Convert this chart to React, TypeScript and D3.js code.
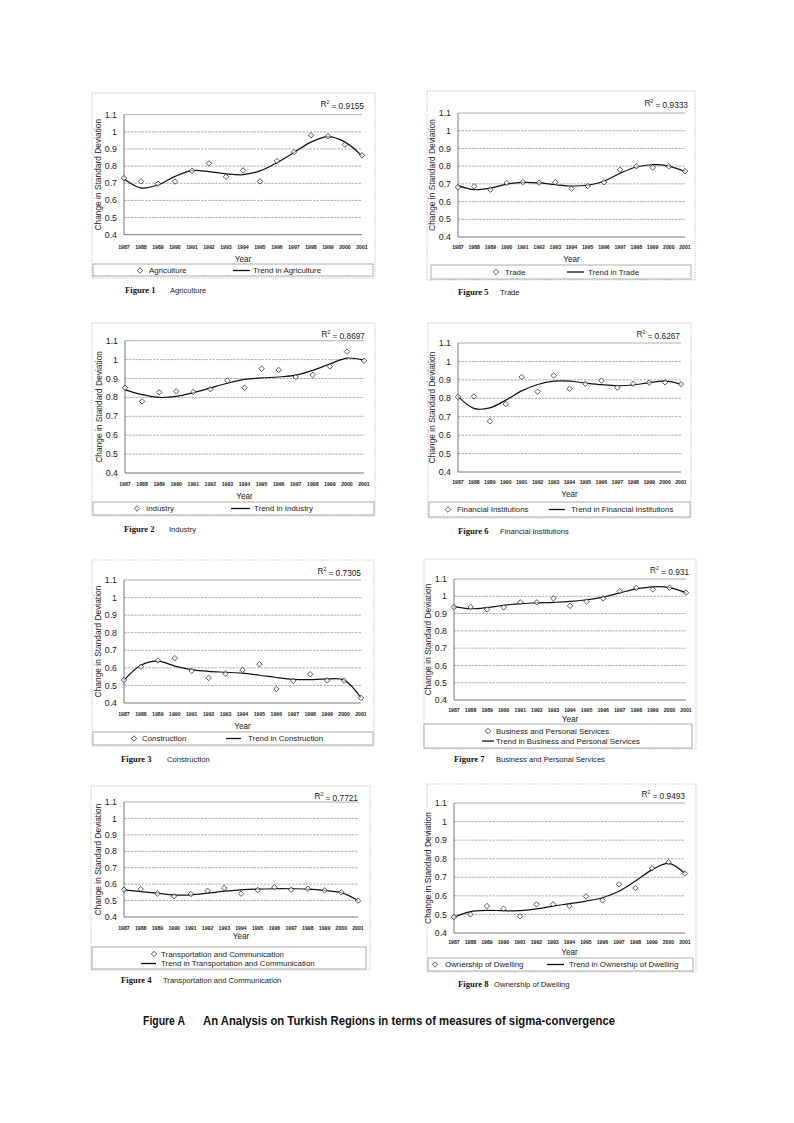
import React from "react";
import * as d3 from "d3";

const years = [1987, 1988, 1989, 1990, 1991, 1992, 1993, 1994, 1995, 1996, 1997, 1998, 1999, 2000, 2001];
const yTicks = [0.4, 0.5, 0.6, 0.7, 0.8, 0.9, 1, 1.1];
const yTickLabels = ["0.4", "0.5", "0.6", "0.7", "0.8", "0.9", "1", "1.1"];

const agricultureValues = [0.73, 0.711, 0.697, 0.71, 0.773, 0.816, 0.738, 0.775, 0.711, 0.83, 0.882, 0.98, 0.974, 0.925, 0.863];
const agricultureTrend = [0.725, 0.673, 0.69, 0.74, 0.774, 0.768, 0.755, 0.75, 0.772, 0.82, 0.88, 0.94, 0.972, 0.94, 0.86];

const tradeValues = [0.682, 0.686, 0.667, 0.705, 0.71, 0.707, 0.709, 0.673, 0.688, 0.709, 0.78, 0.799, 0.793, 0.799, 0.771];
const tradeTrend = [0.69, 0.667, 0.676, 0.698, 0.708, 0.705, 0.695, 0.688, 0.692, 0.715, 0.76, 0.795, 0.808, 0.8, 0.77];

const industryValues = [0.851, 0.779, 0.827, 0.832, 0.829, 0.843, 0.889, 0.851, 0.952, 0.945, 0.908, 0.919, 0.964, 1.042, 0.994];
const industryTrend = [0.84, 0.815, 0.8, 0.805, 0.825, 0.85, 0.875, 0.895, 0.903, 0.908, 0.918, 0.943, 0.977, 1.008, 0.997];

const financialValues = [0.807, 0.81, 0.675, 0.769, 0.915, 0.836, 0.924, 0.852, 0.879, 0.896, 0.858, 0.879, 0.885, 0.887, 0.877];
const financialTrend = [0.81, 0.745, 0.748, 0.79, 0.84, 0.875, 0.893, 0.893, 0.883, 0.874, 0.868, 0.872, 0.885, 0.893, 0.877];

const constructionValues = [0.531, 0.607, 0.642, 0.655, 0.583, 0.543, 0.567, 0.588, 0.621, 0.48, 0.526, 0.564, 0.529, 0.527, 0.429];
const constructionTrend = [0.53, 0.615, 0.638, 0.61, 0.59, 0.58, 0.575, 0.57, 0.558, 0.545, 0.535, 0.533, 0.537, 0.53, 0.43];

const businessValues = [0.938, 0.938, 0.924, 0.936, 0.965, 0.965, 0.988, 0.945, 0.97, 0.988, 1.029, 1.048, 1.04, 1.05, 1.021];
const businessTrend = [0.94, 0.928, 0.935, 0.948, 0.958, 0.962, 0.965, 0.97, 0.98, 0.995, 1.02, 1.043, 1.055, 1.05, 1.02];

const transportValues = [0.566, 0.57, 0.542, 0.526, 0.54, 0.56, 0.577, 0.542, 0.564, 0.581, 0.566, 0.572, 0.562, 0.55, 0.499];
const transportTrend = [0.565, 0.555, 0.545, 0.535, 0.535, 0.545, 0.557, 0.565, 0.57, 0.572, 0.572, 0.57, 0.562, 0.548, 0.5];

const dwellingValues = [0.486, 0.5, 0.545, 0.531, 0.49, 0.554, 0.554, 0.545, 0.597, 0.576, 0.662, 0.642, 0.748, 0.781, 0.72];
const dwellingTrend = [0.485, 0.515, 0.522, 0.52, 0.52, 0.53, 0.545, 0.558, 0.572, 0.59, 0.625, 0.68, 0.74, 0.775, 0.72];

const panelData = [
  { fig: "Figure 1", name: "Agriculture", r2: "0.9155", values: agricultureValues, trend: agricultureTrend },
  { fig: "Figure 5", name: "Trade", r2: "0.9333", values: tradeValues, trend: tradeTrend },
  { fig: "Figure 2", name: "Industry", r2: "0.8697", values: industryValues, trend: industryTrend },
  { fig: "Figure 6", name: "Financial Institutions", r2: "0.6267", values: financialValues, trend: financialTrend },
  { fig: "Figure 3", name: "Construction", r2: "0.7305", values: constructionValues, trend: constructionTrend },
  { fig: "Figure 7", name: "Business and Personal Services", r2: "0.931", values: businessValues, trend: businessTrend },
  { fig: "Figure 4", name: "Transportation and Communication", r2: "0.7721", values: transportValues, trend: transportTrend },
  { fig: "Figure 8", name: "Ownership of Dwelling", r2: "0.9493", values: dwellingValues, trend: dwellingTrend },
];

// layout (positions only)
const layouts = [
  { box: [92, 93, 375, 278], px: [124, 362], py: [234.7, 114.7], tickY: 247, yearY: 259, lg: [93, 264, 373, 276], lgItems: [140, 149, 233, 250, 253], lgY: 270.5, r2: [364, 104], cap: [125, 170, 290] },
  { box: [427, 91, 695, 280], px: [458, 685], py: [237, 113], tickY: 247, yearY: 259, lg: [431, 265, 691, 279], lgItems: [496, 505, 567, 584, 588], lgY: 272, r2: [688, 103], cap: [458, 500, 292] },
  { box: [92, 323, 375, 516], px: [125, 364], py: [473, 340.7], tickY: 484, yearY: 496, lg: [93, 502, 374, 515], lgItems: [137, 146, 231, 250, 254], lgY: 508.5, r2: [365, 334], cap: [124, 169, 529] },
  { box: [428, 323, 691, 518], px: [458, 681], py: [472, 343], tickY: 482, yearY: 494, lg: [429, 502, 690, 517], lgItems: [448, 457, 549, 565, 571], lgY: 509.5, r2: [680, 334], cap: [458, 500, 531] },
  { box: [92, 560, 374, 746], px: [124, 361], py: [703, 580], tickY: 714, yearY: 726, lg: [93, 732, 373, 745], lgItems: [134, 142, 226, 241, 248], lgY: 738.5, r2: [361, 571], cap: [121, 167, 759] },
  { box: [424, 559, 696, 749], px: [454, 686], py: [700, 579], tickY: 710, yearY: 719, lg: [424, 724, 692, 748], lgItems: [488, 496, 482, 494, 496], lgY: 731, lgY2: 741, r2: [689, 570], cap: [454, 496, 759] },
  { box: [91, 786, 370, 970], px: [124, 358], py: [917, 802], tickY: 928, yearY: 936, lg: [92, 947, 366, 969], lgItems: [154, 161, 141, 156, 161], lgY: 954, lgY2: 963.5, r2: [358, 796], cap: [121, 163, 980] },
  { box: [427, 784, 696, 972], px: [454, 685], py: [933, 803], tickY: 942, yearY: 952, lg: [428, 958, 693, 971], lgItems: [435, 445, 547, 564, 569], lgY: 964.5, r2: [685, 794], cap: [458, 494, 984] },
];

const SANS = "'Liberation Sans', Arial, sans-serif";
const SERIF = "'Liberation Serif', 'Times New Roman', serif";

const diamond = d3.symbol().type(d3.symbolDiamond2).size(19);

function Panel({ data, lay }: { data: any; lay: any }) {
  const x = d3.scalePoint<number>().domain(years).range([lay.px[0], lay.px[1]]);
  const y = d3.scaleLinear().domain([0.4, 1.1]).range([lay.py[0], lay.py[1]]);
  const line = d3
    .line<number>()
    .x((_, i) => x(years[i]) as number)
    .y((d) => y(d))
    .curve(d3.curveCatmullRom.alpha(0.5));
  const [bx0, by0, bx1, by1] = lay.box;
  const [lx0, ly0, lx1, ly1] = lay.lg;
  const it = lay.lgItems;
  const twoRow = lay.lgY2 !== undefined;
  const ymid = (lay.py[0] + lay.py[1]) / 2;
  return (
    <g>
      <rect x={bx0} y={by0} width={bx1 - bx0} height={by1 - by0} fill="none" stroke="#b0b0b0" strokeWidth={0.8} strokeDasharray="1.2 1.2" />
      {/* gridlines */}
      {yTicks.map((t, i) =>
        i === 0 ? null : (
          <line key={t} x1={lay.px[0]} x2={lay.px[1]} y1={y(t)} y2={y(t)} stroke="#9a9a9a" strokeWidth={0.8} strokeDasharray={i === yTicks.length - 1 ? "none" : "2.5 1"} />
        )
      )}
      {/* axes */}
      <line x1={lay.px[0]} x2={lay.px[1]} y1={y(0.4)} y2={y(0.4)} stroke="#666" strokeWidth={0.9} />
      <line x1={lay.px[0]} x2={lay.px[0]} y1={y(0.4)} y2={y(1.1)} stroke="#666" strokeWidth={0.9} />
      {/* y tick labels */}
      {yTicks.map((t, i) => (
        <text key={t} x={lay.px[0] - 7} y={y(t)} dy="0.35em" textAnchor="end" fontFamily={SANS} fontSize={8.8} fill="#222">
          {yTickLabels[i]}
        </text>
      ))}
      {/* x tick labels */}
      {years.map((yr) => (
        <text key={yr} x={x(yr)} y={lay.tickY} dy="0.35em" textAnchor="middle" fontFamily={SANS} fontWeight="bold" fontSize={6} fill="#222" textLength={11.5} lengthAdjust="spacingAndGlyphs">
          {String(yr)}
        </text>
      ))}
      <text x={(lay.px[0] + lay.px[1]) / 2} y={lay.yearY} dy="0.35em" textAnchor="middle" fontFamily={SANS} fontSize={8.2} fill="#222">
        Year
      </text>
      <text transform={`translate(${lay.px[0] - 25.5},${ymid}) rotate(-90)`} dy="0.35em" textAnchor="middle" fontFamily={SANS} fontSize={8.4} fill="#222">
        Change in Standard Deviation
      </text>
      {/* R2 */}
      <text x={lay.r2[0]} y={lay.r2[1]} dy="0.35em" textAnchor="end" fontFamily={SANS} fontSize={8.3} fill="#222">
        R<tspan fontSize={5} dy="-0.6em">2</tspan>
        <tspan dy="0.6em">{" = " + data.r2}</tspan>
      </text>
      {/* trend */}
      <path d={line(data.trend) || ""} fill="none" stroke="#111" strokeWidth={1.2} />
      {/* points */}
      {data.values.map((v: number, i: number) => (
        <path key={i} d={diamond() || ""} transform={`translate(${x(years[i])},${y(v)})`} fill="white" fillOpacity={0.6} stroke="#222" strokeWidth={0.75} />
      ))}
      {/* legend */}
      <rect x={lx0} y={ly0} width={lx1 - lx0} height={ly1 - ly0} fill="white" stroke="#9a9a9a" strokeWidth={0.8} />
      <path d={diamond() || ""} transform={`translate(${it[0]},${lay.lgY})`} fill="white" stroke="#222" strokeWidth={0.75} />
      <text x={it[1]} y={lay.lgY} dy="0.35em" fontFamily={SANS} fontSize={7.9} fill="#222">
        {data.name}
      </text>
      <line x1={it[2]} x2={it[3]} y1={twoRow ? lay.lgY2 : lay.lgY} y2={twoRow ? lay.lgY2 : lay.lgY} stroke="#111" strokeWidth={1.3} />
      <text x={it[4]} y={twoRow ? lay.lgY2 : lay.lgY} dy="0.35em" fontFamily={SANS} fontSize={7.9} fill="#222">
        {"Trend in " + data.name}
      </text>
      {/* caption */}
      <text x={lay.cap[0]} y={lay.cap[2]} dy="0.35em" fontFamily={SERIF} fontWeight="bold" fontSize={8.6} fill="#111">
        {data.fig}
      </text>
      <text x={lay.cap[1]} y={lay.cap[2]} dy="0.35em" fontFamily={SANS} fontSize={7.6} fill="#222">
        {data.name}
      </text>
    </g>
  );
}

export default function App() {
  return (
    <svg width={794} height={1123} style={{ position: "absolute", left: 0, top: 0, background: "white" }}>
      <rect x={0} y={0} width={794} height={1123} fill="white" />
      {panelData.map((d, i) => (
        <Panel key={i} data={d} lay={layouts[i]} />
      ))}
      <text x={143} y={1020} dy="0.35em" fontFamily={SANS} fontWeight="bold" fontSize={13.5} fill="#111" textLength={42} lengthAdjust="spacingAndGlyphs">
        Figure A
      </text>
      <text x={203} y={1020} dy="0.35em" fontFamily={SANS} fontWeight="bold" fontSize={13.5} fill="#111" textLength={412} lengthAdjust="spacingAndGlyphs">
        An Analysis on Turkish Regions in terms of measures of sigma-convergence
      </text>
    </svg>
  );
}
